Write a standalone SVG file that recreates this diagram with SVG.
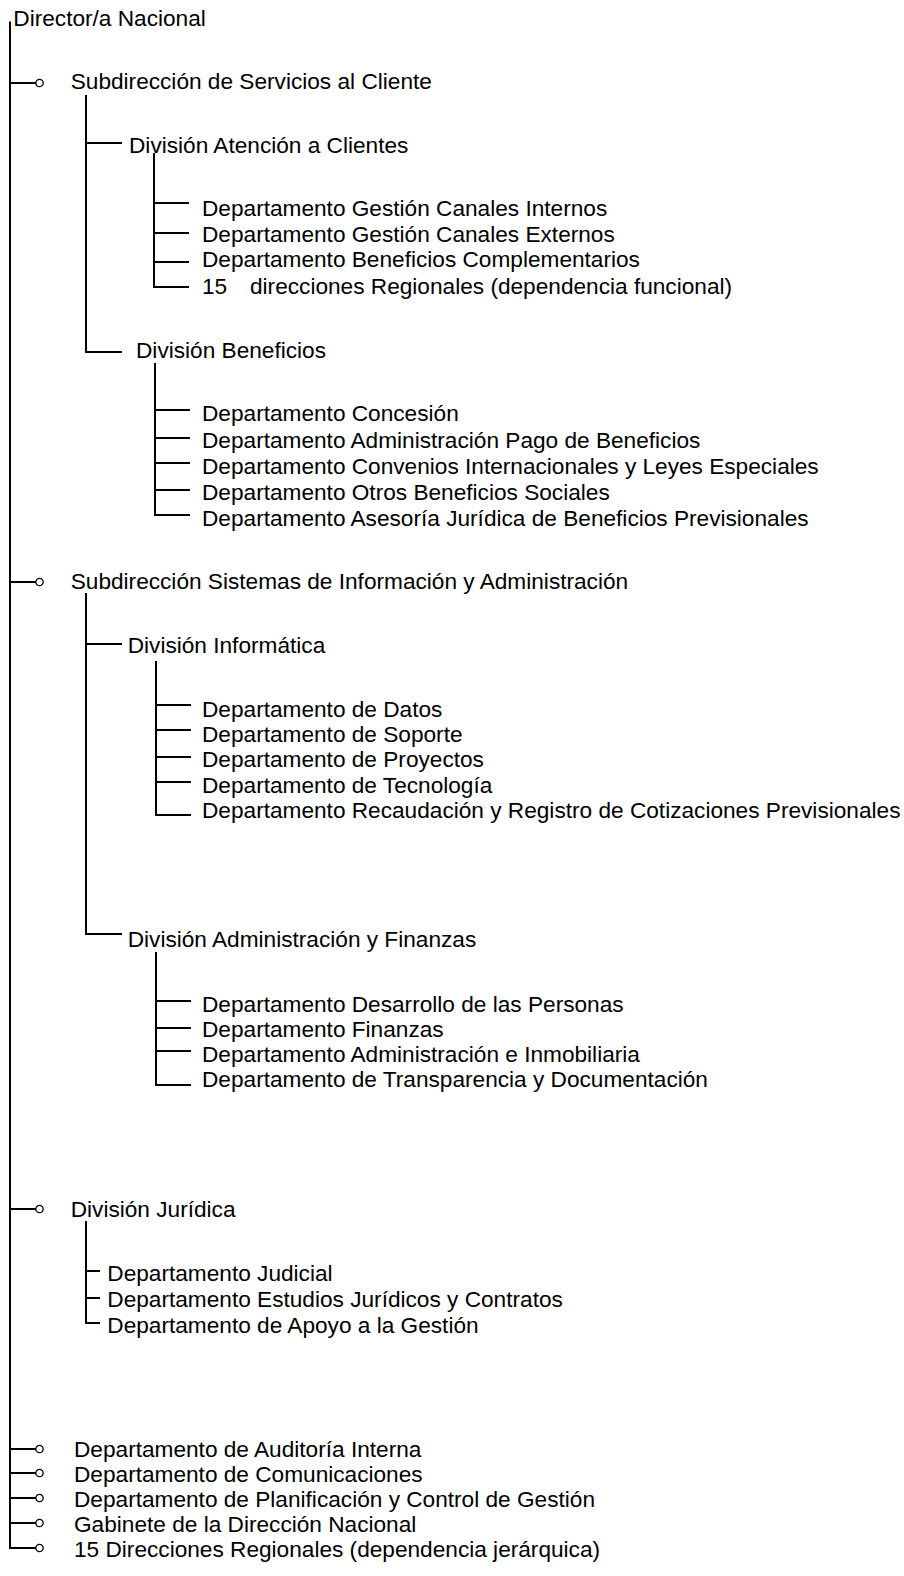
<svg xmlns="http://www.w3.org/2000/svg" width="904" height="1576" viewBox="0 0 904 1576">
<style>
text{font-family:"Liberation Sans",Arial,sans-serif;font-size:22.65px;fill:#000}
.v{stroke:#000;stroke-width:2;fill:none}
.h{stroke:#000;stroke-width:2;fill:none}
.c{stroke:#000;stroke-width:1.3;fill:#fff}
</style>
<defs>
<circle id="knob" r="3.7" class="c"/>
</defs>
<rect width="904" height="1576" fill="#fff"/>
<g id="connectors">
<path class="v" d="M10 21.5V1548"/>
<path class="h" d="M9 1548H36M10 83H36M10 582H36M10 1209H36M10 1449H36M10 1473H36M10 1498H36M10 1523H36"/>
<use href="#knob" x="39.5" y="83"/>
<use href="#knob" x="39.5" y="582"/>
<use href="#knob" x="39.5" y="1209"/>
<use href="#knob" x="39.5" y="1449"/>
<use href="#knob" x="39.5" y="1473"/>
<use href="#knob" x="39.5" y="1498"/>
<use href="#knob" x="39.5" y="1523"/>
<use href="#knob" x="39.5" y="1548"/>
<path class="v" d="M86 95V352"/>
<path class="h" d="M85 352H122M86 143H122"/>
<path class="v" d="M154 153V287"/>
<path class="h" d="M153 287H189M154 203H189M154 233H189M154 262H189"/>
<path class="v" d="M155 363V515"/>
<path class="h" d="M154 515H190M155 410H190M155 438H190M155 463H190M155 490H190"/>
<path class="v" d="M86 593V934"/>
<path class="h" d="M85 934H122M86 644H122"/>
<path class="v" d="M156 661V815"/>
<path class="h" d="M155 815H191M156 705H191M156 730H191M156 757H191M156 782H191"/>
<path class="v" d="M156 952V1085"/>
<path class="h" d="M155 1085H191M156 1001H191M156 1028H191M156 1051H191"/>
<path class="v" d="M86 1221V1323"/>
<path class="h" d="M85 1323H100M86 1271H100M86 1298H100"/>
</g>
<g id="n-director"><text x="13.3" y="26">Director/a Nacional</text></g>
<g id="n-subdir-servicios"><text x="70.7" y="89.3">Subdirección de Servicios al Cliente</text></g>
<g id="n-div-atencion"><text x="129" y="152.7">División Atención a Clientes</text></g>
<g id="n-dep-canales-internos"><text x="202" y="216">Departamento Gestión Canales Internos</text></g>
<g id="n-dep-canales-externos"><text x="202" y="241.7">Departamento Gestión Canales Externos</text></g>
<g id="n-dep-beneficios-compl"><text x="202" y="267.3">Departamento Beneficios Complementarios</text></g>
<g id="n-direcciones-funcional"><text x="202" y="294">15<tspan x="250">direcciones Regionales (dependencia funcional)</tspan></text></g>
<g id="n-div-beneficios"><text x="136" y="358.3">División Beneficios</text></g>
<g id="n-dep-concesion"><text x="202" y="421">Departamento Concesión</text></g>
<g id="n-dep-pago"><text x="202" y="447.7">Departamento Administración Pago de Beneficios</text></g>
<g id="n-dep-convenios"><text x="202" y="474">Departamento Convenios Internacionales y Leyes Especiales</text></g>
<g id="n-dep-otros"><text x="202" y="500">Departamento Otros Beneficios Sociales</text></g>
<g id="n-dep-asesoria"><text x="202" y="525.7">Departamento Asesoría Jurídica de Beneficios Previsionales</text></g>
<g id="n-subdir-sistemas"><text x="70.7" y="589.3">Subdirección Sistemas de Información y Administración</text></g>
<g id="n-div-informatica"><text x="127.7" y="653.3">División Informática</text></g>
<g id="n-dep-datos"><text x="202" y="717.3">Departamento de Datos</text></g>
<g id="n-dep-soporte"><text x="202" y="741.7">Departamento de Soporte</text></g>
<g id="n-dep-proyectos"><text x="202" y="767.3">Departamento de Proyectos</text></g>
<g id="n-dep-tecnologia"><text x="202" y="793.3">Departamento de Tecnología</text></g>
<g id="n-dep-recaudacion"><text x="202" y="818">Departamento Recaudación y Registro de Cotizaciones Previsionales</text></g>
<g id="n-div-admin"><text x="127.7" y="946.7">División Administración y Finanzas</text></g>
<g id="n-dep-personas"><text x="202" y="1011.7">Departamento Desarrollo de las Personas</text></g>
<g id="n-dep-finanzas"><text x="202" y="1036.7">Departamento Finanzas</text></g>
<g id="n-dep-inmobiliaria"><text x="202" y="1061.7">Departamento Administración e Inmobiliaria</text></g>
<g id="n-dep-transparencia"><text x="202" y="1086.7">Departamento de Transparencia y Documentación</text></g>
<g id="n-div-juridica"><text x="70.7" y="1217.3">División Jurídica</text></g>
<g id="n-dep-judicial"><text x="107.3" y="1280.5">Departamento Judicial</text></g>
<g id="n-dep-estudios"><text x="107.3" y="1307">Departamento Estudios Jurídicos y Contratos</text></g>
<g id="n-dep-apoyo"><text x="107.3" y="1333">Departamento de Apoyo a la Gestión</text></g>
<g id="n-dep-auditoria"><text x="74" y="1457.3">Departamento de Auditoría Interna</text></g>
<g id="n-dep-comunicaciones"><text x="74" y="1481.7">Departamento de Comunicaciones</text></g>
<g id="n-dep-planificacion"><text x="74" y="1507.3">Departamento de Planificación y Control de Gestión</text></g>
<g id="n-gabinete"><text x="74" y="1531.7">Gabinete de la Dirección Nacional</text></g>
<g id="n-direcciones-jerarquica"><text x="74" y="1556.7">15 Direcciones Regionales (dependencia jerárquica)</text></g>
</svg>
